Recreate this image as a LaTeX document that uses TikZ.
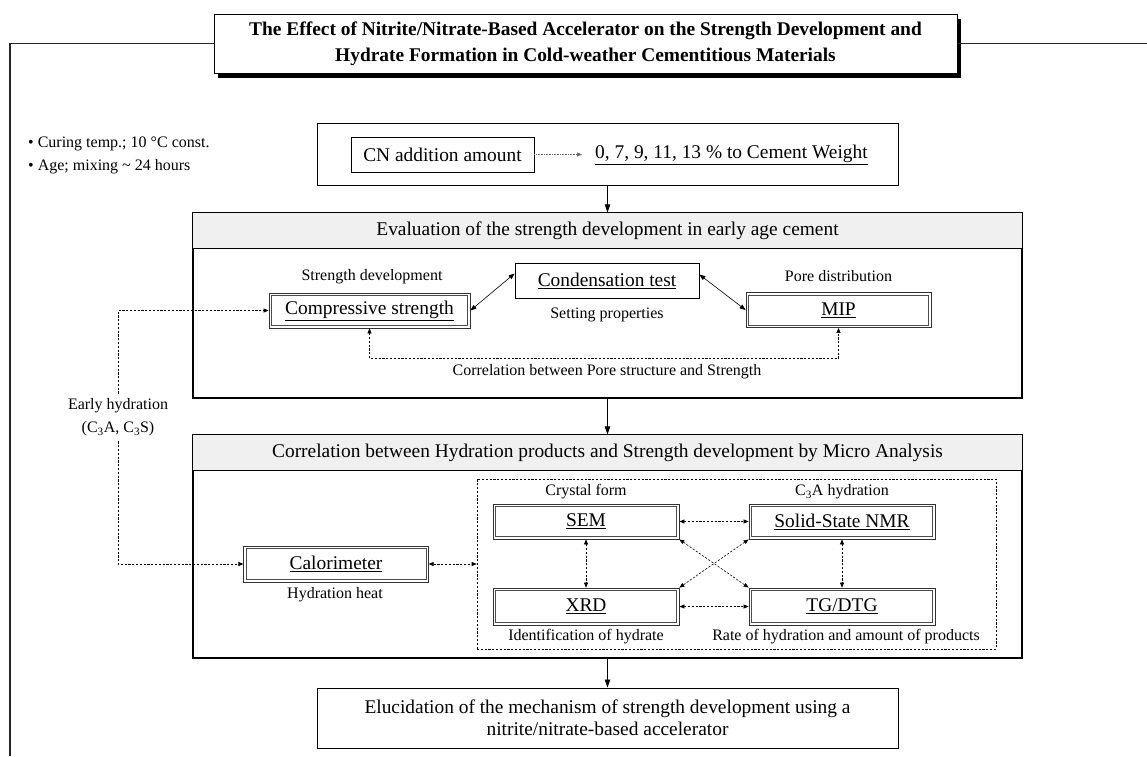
\documentclass[tikz,border=0pt]{standalone}
\usepackage{fontspec}
\setmainfont{Liberation Serif}
\usetikzlibrary{arrows.meta,calc,shadows}
\newcommand\fbig{\fontsize{19.4pt}{22pt}\selectfont}
\newcommand\fsml{\fontsize{16pt}{23pt}\selectfont}
\begin{document}
\begin{tikzpicture}[x=1pt,y=-1pt,
  arr/.style={-{Triangle[length=8pt,width=5.5pt]}, line width=0.7pt},
  biarr/.style={{Triangle[length=6pt,width=4.5pt]}-{Triangle[length=6pt,width=4.5pt]}, line width=0.6pt},
  dtip/.style={{Triangle[length=5pt,width=4pt]}-{Triangle[length=5pt,width=4pt]}},
  dashln/.style={dash pattern=on 2.2pt off 1.6pt, line width=0.6pt},
  dotln/.style={dash pattern=on 0.8pt off 0.8pt, line width=0.7pt, black!60},
  lbl/.style={font=\fsml, inner sep=0pt},
  sbox/.style={draw, line width=0.8pt, fill=white, minimum height=35pt, inner sep=0pt, font=\fbig},
  dbx/.style={draw=black!80, line width=0.8pt, fill=white, minimum height=35pt, inner sep=0pt, font=\fbig,
    path picture={\draw[black!70, line width=0.7pt]
      ([xshift=2.4pt,yshift=2.4pt]path picture bounding box.south west) rectangle
      ([xshift=-2.4pt,yshift=-2.4pt]path picture bounding box.north east);}},
  sect/.style={draw, line width=1.2pt, minimum width=829pt, inner sep=0pt},
  band/.style={draw, line width=1.2pt, fill=gray!12}
]
\useasboundingbox (0,0) rectangle (1147,756);

% title and frame
\node[draw, line width=1pt, fill=white, minimum width=743pt, minimum height=59pt, inner sep=0pt,
  align=center, font=\bfseries\fontsize{19.4pt}{26pt}\selectfont,
  general shadow={shadow xshift=4pt, shadow yshift=-4.5pt, fill=black}]
  (title) at (585.5,43.5) {The Effect of Nitrite/Nitrate-Based Accelerator on the Strength Development and\\Hydrate Formation in Cold-weather Cementitious Materials};
\draw[black!85, line width=1.3pt] (10,756) |- (title.west);
\draw[black!85, line width=1.3pt] (title.east) -- (1147,43.5);

% conditions
\node[lbl, anchor=west] (b1) at (28,144) {\textbullet\ Curing temp.; 10~°C const.};
\node[lbl, anchor=west] (b2) at (28,167) {\textbullet\ Age; mixing \textasciitilde\ 24 hours};

% CN box
\node[draw, line width=0.9pt, minimum width=581pt, minimum height=62pt] (cnout) at (607.5,154) {};
\node[sbox, minimum width=183pt] (cn) at (442.5,154.5) {CN addition amount};
\node[anchor=west, font=\fbig, inner sep=0pt] (cnval) at (595,154.5) {\underline{0, 7, 9, 11, 13 \% to Cement Weight}};
\draw[dotln, -{Triangle[length=5pt,width=4pt]}] (cn.east) -- ([xshift=-13pt]cnval.west);

% section 1
\node[sect, minimum height=185pt] (sec1) at (607.5,305.5) {};
\draw[band] (sec1.north west) rectangle ($(sec1.north east)+(0,36)$);
\node[font=\fbig, inner sep=0pt] (h1) at (607.5,231) {Evaluation of the strength development in early age cement};
\draw[arr] (cnout.south) -- (sec1.north);

\node[lbl] (l1) at (372,277) {Strength development};
\node[dbx, minimum width=201pt] (comp) at (369.5,310.5) {\underline{Compressive strength}};
\node[sbox, minimum width=184pt] (cond) at (607,280.5) {\underline{Condensation test}};
\node[lbl] (l2) at (607,315) {Setting properties};
\node[lbl] (l3) at (838.5,276) {Pore distribution};
\node[dbx, minimum width=185pt] (mip) at (838.5,310) {\underline{MIP}};
\draw[biarr] (comp.east) -- ([yshift=7pt]cond.west);
\draw[biarr] ([yshift=6pt]cond.east) -- (mip.west);
\draw[dashln, dtip] (comp.south) -- ++(0,30) -| (mip.south);
\node[lbl] (l4) at (607,372) {Correlation between Pore structure and Strength};

% early hydration
\node[lbl, align=center, inner ysep=5pt] (eh) at (118,417.5) {Early hydration\\(C\textsubscript{3}A, C\textsubscript{3}S)};

% section 2
\node[sect, minimum height=223pt] (sec2) at (607.5,546.5) {};
\draw[band] (sec2.north west) rectangle ($(sec2.north east)+(0,36)$);
\node[font=\fbig, inner sep=0pt] (h2) at (607.5,453) {Correlation between Hydration products and Strength development by Micro Analysis};
\draw[arr] (sec1.south) -- (sec2.north);

\node[draw, dashln, minimum width=519pt, minimum height=170pt, inner sep=0pt] (dbox) at (736.5,564) {};
\node[lbl] (l5) at (586,492) {Crystal form};
\node[lbl] (l6) at (842,492) {C\textsubscript{3}A hydration};
\node[dbx, minimum width=186pt] (sem) at (586,521.5) {\underline{SEM}};
\node[dbx, minimum width=186pt] (nmr) at (842,521.5) {\underline{Solid-State NMR}};
\node[dbx, minimum width=186pt, minimum height=37pt] (xrd) at (586,606.5) {\underline{XRD}};
\node[dbx, minimum width=186pt, minimum height=37pt] (tg) at (842,606.5) {\underline{TG/DTG}};
\node[lbl] (l7) at (586,637) {Identification of hydrate};
\node[lbl] (l8) at (846,637) {Rate of hydration and amount of products};
\node[dbx, minimum width=184.5pt, minimum height=36pt] (calo) at (336,564) {\underline{Calorimeter}};
\node[lbl] (l9) at (335,595) {Hydration heat};

\draw[dashln, dtip] (calo.east) -- (dbox.west);
\draw[dashln, dtip] (sem.east) -- (nmr.west);
\draw[dashln, dtip] (xrd.east) -- (tg.west);
\draw[dashln, dtip] (sem.south) -- (xrd.north);
\draw[dashln, dtip] (nmr.south) -- (tg.north);
\draw[dashln, dtip] (sem.south east) -- (tg.north west);
\draw[dashln, dtip] (nmr.south west) -- (xrd.north east);

\draw[dashln, -{Triangle[length=5pt,width=4pt]}] (eh.north) -- (eh.north |- comp.west) -- (comp.west);
\draw[dashln, -{Triangle[length=5pt,width=4pt]}] (eh.south) -- (eh.south |- calo.west) -- (calo.west);

% final
\node[draw, line width=1pt, fill=white, minimum width=581pt, minimum height=60pt, inner sep=0pt,
  align=center, font=\fbig,
  general shadow={shadow xshift=1.2pt, shadow yshift=-1.2pt, fill=black!60}]
  (fin) at (607.5,718) {Elucidation of the mechanism of strength development using a\\nitrite/nitrate-based accelerator};
\draw[arr] (sec2.south) -- (fin.north);
\end{tikzpicture}
\end{document}
